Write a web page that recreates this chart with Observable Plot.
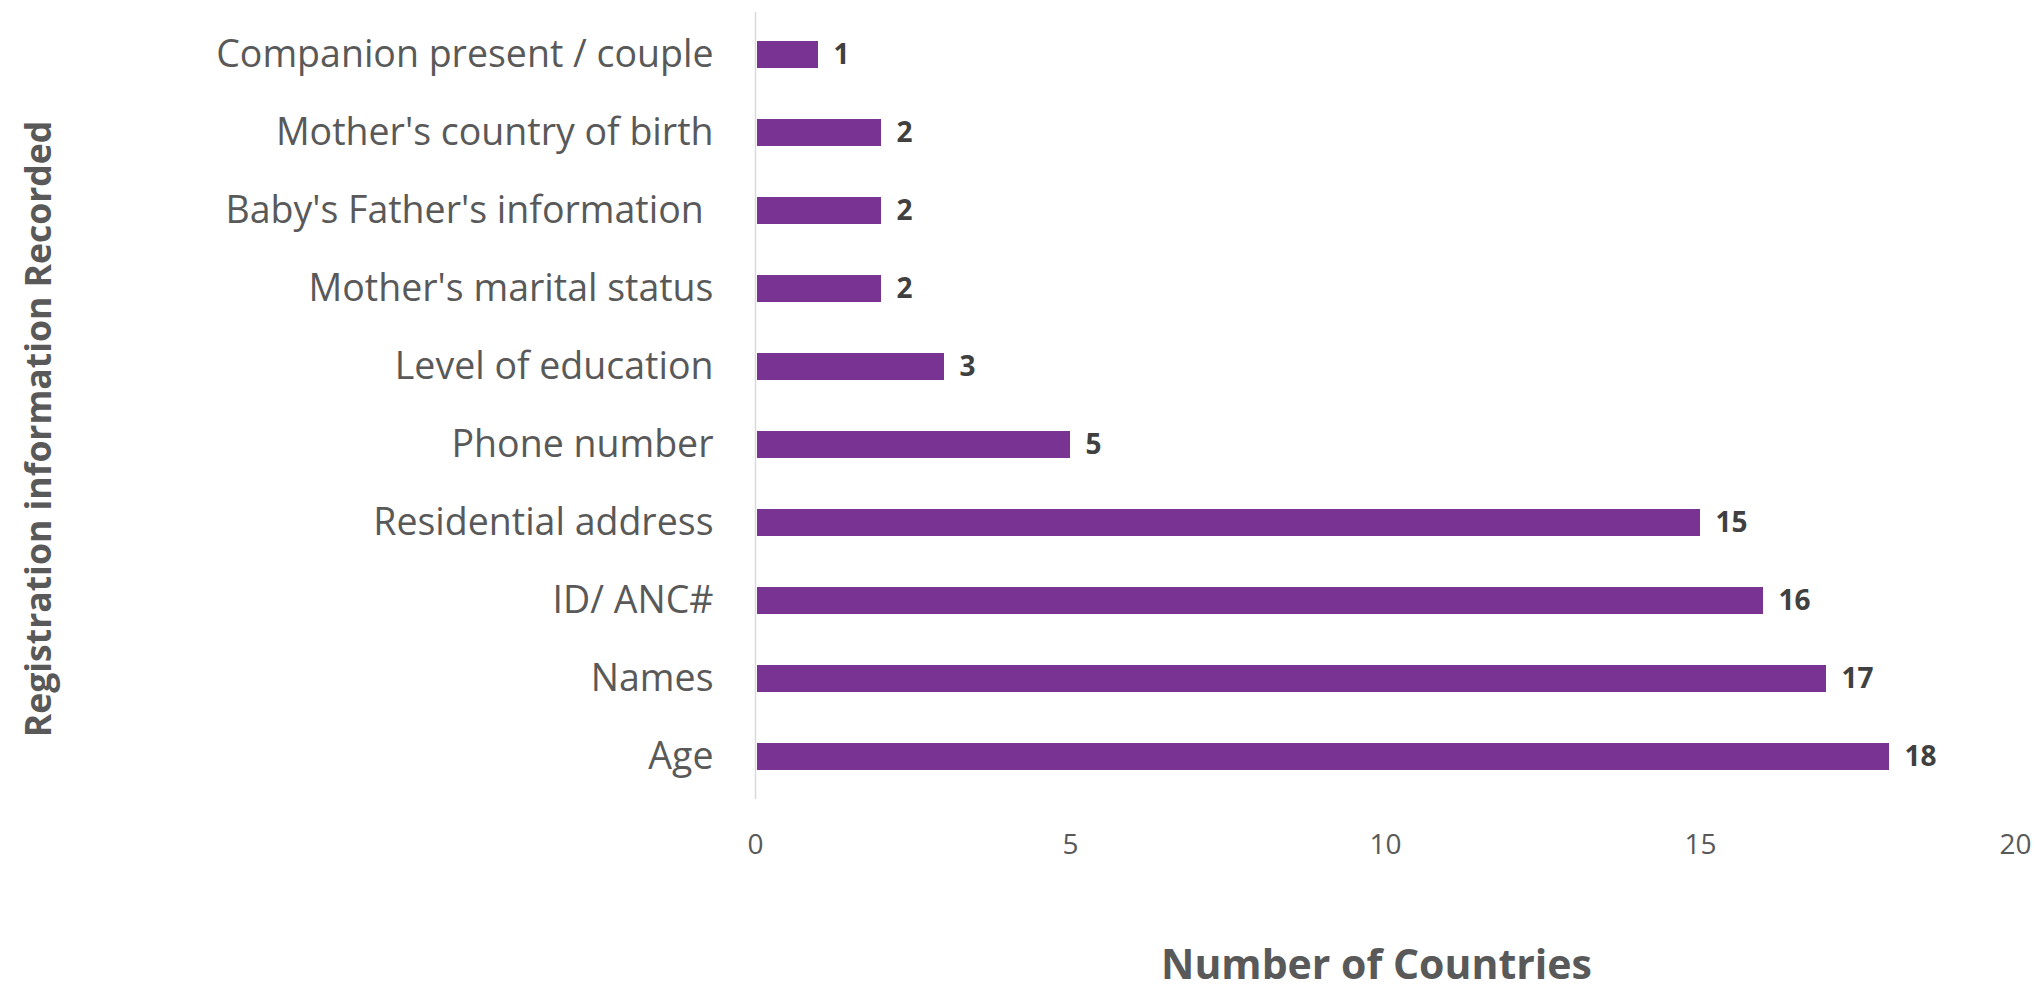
<!DOCTYPE html>
<html>
<head>
<meta charset="utf-8">
<script src="https://cdn.jsdelivr.net/npm/d3@7"></script>
<script src="https://cdn.jsdelivr.net/npm/@observablehq/plot@0.6"></script>
<style>
  html, body { margin: 0; padding: 0; background: #fff; }
  #chart svg text { white-space: pre; }
</style>
</head>
<body>
<div id="chart"></div>
<script>
const categories = [
  "Companion present / couple",
  "Mother's country of birth",
  "Baby's Father's information ",
  "Mother's marital status",
  "Level of education",
  "Phone number",
  "Residential address",
  "ID/ ANC#",
  "Names",
  "Age"
];
const values = [1, 2, 2, 2, 3, 5, 15, 16, 17, 18];
const xTicks = [0, 5, 10, 15, 20];
const xTitle = "Number of Countries";
const yTitle = "Registration information Recorded";

const data = categories.map((c, i) => ({category: c, value: values[i]}));

const W = 2035, H = 990;
const chart = Plot.plot({
  width: W,
  height: H,
  marginLeft: 755,
  marginRight: 20,
  marginTop: 12,
  marginBottom: 191,
  style: {fontFamily: "'Open Sans', Lato, sans-serif", background: "#fff", overflow: "visible"},
  x: {domain: [0, 20], ticks: xTicks},
  y: {domain: categories, paddingInner: 0.65, paddingOuter: 0.325},
  marks: [
    Plot.ruleX([0], {stroke: "#d9d9d9", strokeWidth: 1.5}),
    Plot.barX(data, {x: "value", y: "category", fill: "#783393", insetLeft: 2}),
    Plot.text(data, {x: "value", y: "category", text: d => String(d.value), textAnchor: "start", dx: 15,
      fill: "#404040", fontWeight: "bold", fontSize: 28}),
    Plot.axisY({tickSize: 0, tickPadding: 42, fontSize: 37.5, color: "#595959", label: null}),
    Plot.axisX({ticks: xTicks, tickSize: 0, tickPadding: 35, fontSize: 28, color: "#595959", label: null}),
    Plot.text([xTitle], {frameAnchor: "bottom", text: d => d, dy: 179, dx: -9, fontSize: 41, fontWeight: "bold", fill: "#595959"}),
    Plot.text([yTitle], {frameAnchor: "left", textAnchor: "middle", lineAnchor: "middle", text: d => d, rotate: -90, dx: -716, dy: 23, fontSize: 35.5, fontWeight: "bold", fill: "#595959"})
  ]
});
document.getElementById("chart").appendChild(chart);
</script>
</body>
</html>
